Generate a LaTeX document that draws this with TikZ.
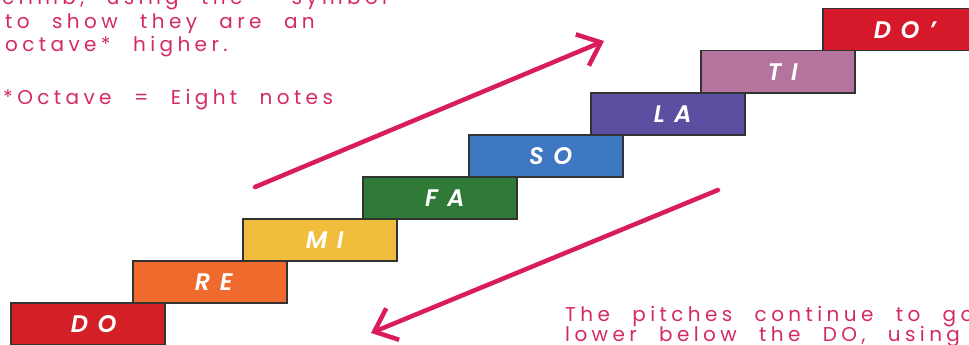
\documentclass[tikz,border=0pt]{standalone}
\usepackage{fontspec}
\usetikzlibrary{arrows.meta}
\newfontfamily\handfont[LetterSpace=22,WordSpace=2.3]{Poppins}
\newfontfamily\labfont[LetterSpace=40]{Poppins SemiBold Italic}
\definecolor{handpink}{HTML}{D42A62}
\definecolor{arrowpink}{HTML}{D91D5C}
\definecolor{cDO}{HTML}{D31F26}
\definecolor{cRE}{HTML}{EE6B2D}
\definecolor{cMI}{HTML}{F0BE3C}
\definecolor{cFA}{HTML}{2E7A36}
\definecolor{cSO}{HTML}{3E78C2}
\definecolor{cLA}{HTML}{5A4FA1}
\definecolor{cTI}{HTML}{B5749E}
\definecolor{cDOP}{HTML}{D6192A}
\tikzset{
  stair/.style={draw=black!80, line width=1.5pt, minimum width=154pt, minimum height=42pt,
    inner sep=0pt, anchor=north west, text=white, font=\labfont\fontsize{24}{26}\selectfont},
  hand/.style={anchor=base west, inner sep=0pt, text=handpink, font=\handfont\fontsize{20}{23}\selectfont},
  bigarrow/.style={draw=arrowpink, line width=4.5pt, line cap=round,
    -{Straight Barb[length=20pt,width=34pt,line width=4.5pt]}}
}
\begin{document}
\begin{tikzpicture}[x=1pt,y=-1pt]
\useasboundingbox (0,0) rectangle (969,345);
\clip (0,0) rectangle (969,345);
\node[stair, fill=cDO]  (do) at (10,302)  {\hspace{12pt}DO};
\node[stair, fill=cRE]  (re) at (132,260) {\hspace{8pt}RE};
\node[stair, fill=cMI]  (mi) at (242,218) {\hspace{10pt}MI};
\node[stair, fill=cFA]  (fa) at (362,176) {\hspace{10pt}FA};
\node[stair, fill=cSO]  (so) at (468,134) {\hspace{10pt}SO};
\node[stair, fill=cLA]  (la) at (590,92)  {\hspace{10pt}LA};
\node[stair, fill=cTI]  (ti) at (700,50)  {\hspace{10pt}TI};
\node[stair, fill=cDOP] (dop) at (822,8)  {\hspace{10pt}DO’};
\node[hand] (t1) at (2,5)   {climb, using the ’ symbol};
\node[hand] (t2) at (5,29)  {to show they are an};
\node[hand] (t3) at (5,52)  {octave* higher.};
\node[hand] (t4) at (3,104) {*Octave = Eight notes};
\node[hand] (b1) at (565,321) {The pitches continue to go};
\node[hand] (b2) at (565,341) {lower below the DO, using};
\coordinate (u1) at (255,187);
\coordinate (u2) at (604,41);
\coordinate (d1) at (718,190);
\coordinate (d2) at (371,333);
\draw[bigarrow] (u1) -- (u2);
\draw[bigarrow] (d1) -- (d2);
\end{tikzpicture}
\end{document}
